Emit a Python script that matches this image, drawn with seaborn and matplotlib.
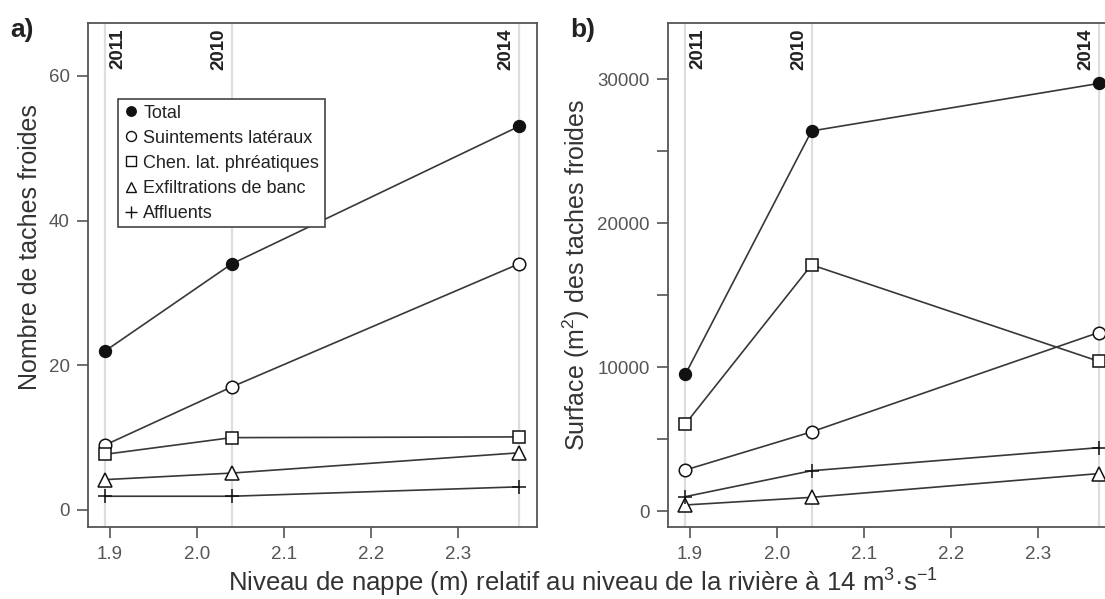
import matplotlib
matplotlib.use("Agg")
import matplotlib.pyplot as plt
import seaborn as sns
from matplotlib.lines import Line2D

# niveau de nappe (m) des trois campagnes
niveau = [1.895, 2.04, 2.37]
annees = ["2011", "2010", "2014"]

series = ["Total", "Suintements latéraux", "Chen. lat. phréatiques",
          "Exfiltrations de banc", "Affluents"]

# a) nombre de taches froides
nb_total = [22, 34, 53]
nb_suint = [9, 17, 34]
nb_chen = [7.7, 10, 10.1]
nb_exfil = [4.2, 5.1, 7.9]
nb_affl = [1.9, 1.9, 3.2]

# b) surface (m2) des taches froides
surf_total = [9500, 26400, 29700]
surf_suint = [2850, 5500, 12400]
surf_chen = [6050, 17100, 10400]
surf_exfil = [420, 950, 2600]
surf_affl = [1000, 2800, 4400]

xticks = [1.9, 2.0, 2.1, 2.2, 2.3]
xtick_labels = ["1.9", "2.0", "2.1", "2.2", "2.3"]
yticks_a = [0, 20, 40, 60]
yticks_b = [0, 5000, 10000, 15000, 20000, 25000, 30000]
ytick_labels_b = ["0", "", "10000", "", "20000", "", "30000"]

sns.set_theme(style="ticks")
plt.rcParams["font.family"] = ["Liberation Sans", "DejaVu Sans"]
plt.rcParams["mathtext.fontset"] = "custom"
plt.rcParams["mathtext.rm"] = "Liberation Sans"
plt.rcParams["mathtext.it"] = "Liberation Sans:italic"
plt.rcParams["mathtext.bf"] = "Liberation Sans:bold"

# marker style per series: (marker, facecolor, size)
styles = [("o", "#111111", 8.5), ("o", "white", 9), ("s", "white", 9),
          ("^", "white", 9.5), ("+", "#111111", 10)]
line_col = "#383838"
grid_col = "#dedede"
spine_col = "#555555"
tick_col = "#555555"


def draw_panel(ax, data):
    for x in niveau:
        ax.axvline(x, color=grid_col, lw=1.6, zorder=0)
    for vals, (m, fc, ms) in zip(data, styles):
        sns.lineplot(x=niveau, y=vals, ax=ax, color=line_col, lw=1.2,
                     marker=m, markersize=ms, markerfacecolor=fc,
                     markeredgecolor="#111111", markeredgewidth=1.1,
                     zorder=3, legend=False)
    ax.set_xlim(1.875, 2.391)
    ax.set_xticks(xticks)
    ax.set_xticklabels(xtick_labels)
    for s in ax.spines.values():
        s.set_color(spine_col)
        s.set_linewidth(1.3)
    ax.tick_params(axis="both", length=8, width=1.2, color=spine_col,
                   labelsize=13.5, labelcolor=tick_col)
    ax.tick_params(axis="x", pad=6)
    ax.tick_params(axis="y", pad=5)
    # years written along the top
    for x, yr in zip(niveau, annees):
        dx, ha = (3, "left") if yr == "2011" else (-3, "right")
        ax.annotate(yr, xy=(x, 0.99), xycoords=("data", "axes fraction"),
                    xytext=(dx, 0), textcoords="offset points", rotation=90,
                    ha=ha, va="top", fontsize=13.5, fontweight="bold",
                    color="#222222")


fig = plt.figure(figsize=(11.05, 5.99), dpi=100)
ax1 = fig.add_axes([88 / 1105, 72 / 599, 449 / 1105, 504 / 599])
ax2 = fig.add_axes([668 / 1105, 72 / 599, 449 / 1105, 504 / 599])

draw_panel(ax1, [nb_total, nb_suint, nb_chen, nb_exfil, nb_affl])
ax1.set_ylim(-2.35, 67.3)
ax1.set_yticks(yticks_a)
ax1.set_ylabel("Nombre de taches froides", fontsize=18, color="#333333")
ax1.yaxis.set_label_coords(-0.102, 0.556)

draw_panel(ax2, [surf_total, surf_suint, surf_chen, surf_exfil, surf_affl])
ax2.set_ylim(-1110, 33900)
ax2.set_yticks(yticks_b)
ax2.set_yticklabels(ytick_labels_b)
ax2.set_ylabel("Surface (m$^{2}$) des taches froides", fontsize=18,
               color="#333333")
ax2.yaxis.set_label_coords(-0.169, 0.50)

# legend: markers only
handles = [Line2D([], [], linestyle="none", marker=m, markersize=ms * 0.8,
                  markerfacecolor=fc, markeredgecolor="#111111",
                  markeredgewidth=1.0, color="#111111")
           for (m, fc, ms) in styles]
leg = ax1.legend(handles, series, loc="upper left",
                 bbox_to_anchor=(0.067, 0.849), borderaxespad=0,
                 fontsize=13, labelspacing=0.45, handlelength=0.8,
                 handletextpad=0.3, borderpad=0.3, fancybox=False,
                 framealpha=1, edgecolor="#444444", labelcolor="#222222")
leg.get_frame().set_linewidth(1.2)

fig.text(10 / 1105, 1 - 18 / 599, "a)", fontsize=19, fontweight="bold",
         ha="left", va="top", color="#222222")
fig.text(570 / 1105, 1 - 18 / 599, "b)", fontsize=19, fontweight="bold",
         ha="left", va="top", color="#222222")
fig.text(583 / 1105, 1 - 583 / 599,
         "Niveau de nappe (m) relatif au niveau de la rivière à 14 m$^{3}$·s$^{-1}$",
         fontsize=18.5, ha="center", va="center", color="#333333")

fig.savefig("out.png", dpi=100)
